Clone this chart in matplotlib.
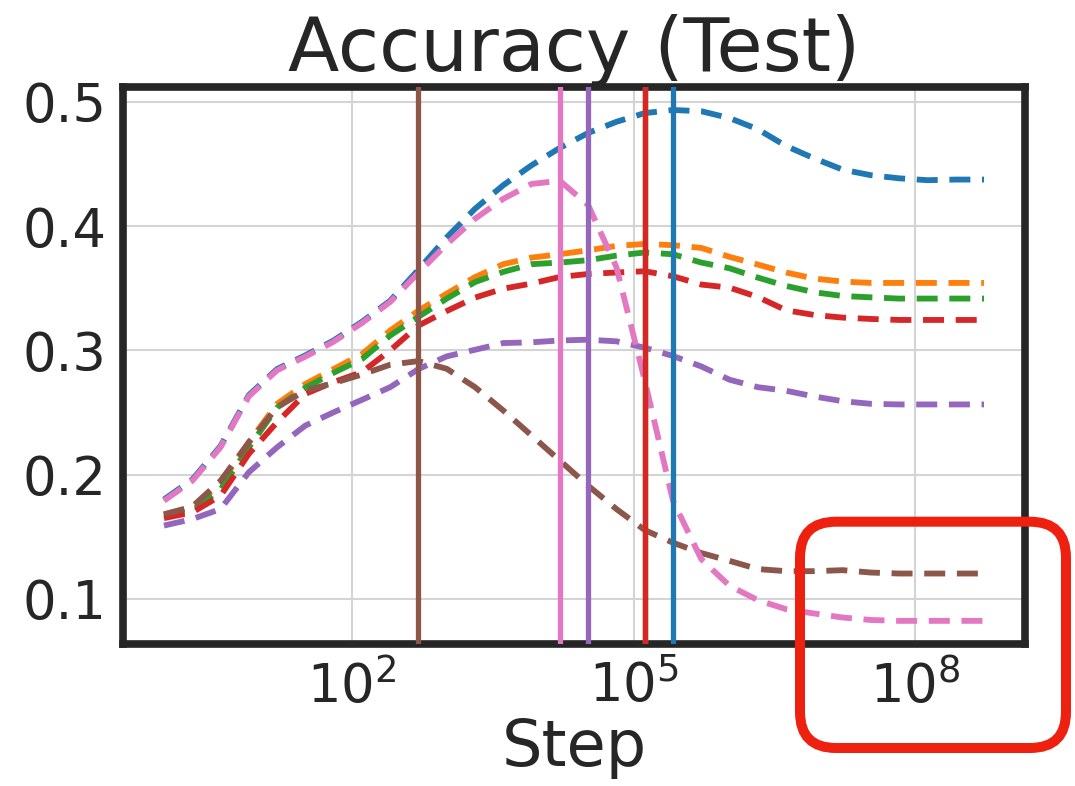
import matplotlib
matplotlib.use("Agg")
import matplotlib.pyplot as plt
import numpy as np
from matplotlib.patches import FancyBboxPatch
from matplotlib.ticker import FixedLocator, LogFormatterSciNotation, NullLocator

# Training steps (powers of two)
steps = [1, 2, 4, 8, 16, 32, 64, 128, 256, 512, 1024, 2048, 4096, 8192,
         16384, 32768, 65536, 131072, 262144, 524288, 1048576, 2097152,
         4194304, 8388608, 16777216, 33554432, 67108864, 134217728,
         268435456, 536870912]

acc_blue = [0.180, 0.196, 0.223, 0.264, 0.285, 0.296, 0.308, 0.323, 0.340, 0.365,
            0.391, 0.414, 0.433, 0.449, 0.463, 0.475, 0.484, 0.491, 0.4935, 0.4925,
            0.487, 0.478, 0.4645, 0.4545, 0.4455, 0.441, 0.4385, 0.437, 0.4375, 0.4375]
acc_orange = [0.168, 0.1737, 0.1925, 0.226, 0.257, 0.273, 0.285, 0.297, 0.316, 0.332,
              0.3457, 0.359, 0.3694, 0.3747, 0.3774, 0.3806, 0.3841, 0.3857, 0.3847, 0.3825,
              0.3753, 0.3691, 0.3627, 0.3578, 0.3554, 0.3543, 0.3543, 0.3543, 0.3543, 0.3543]
acc_green = [0.167, 0.171, 0.188, 0.222, 0.254, 0.270, 0.282, 0.293, 0.312, 0.327,
             0.3417, 0.355, 0.3632, 0.3694, 0.3707, 0.3726, 0.3763, 0.3788, 0.3774, 0.3707,
             0.3661, 0.3586, 0.3519, 0.3468, 0.3438, 0.3427, 0.3417, 0.3417, 0.3417, 0.3417]
acc_red = [0.165, 0.1696, 0.183, 0.2167, 0.2422, 0.265, 0.2745, 0.2825, 0.300, 0.320,
           0.3317, 0.3425, 0.3497, 0.3538, 0.3591, 0.3615, 0.3627, 0.3637, 0.3597, 0.353,
           0.3505, 0.343, 0.3323, 0.3285, 0.3264, 0.3253, 0.3245, 0.3245, 0.3245, 0.3245]
acc_purple = [0.159, 0.1642, 0.1723, 0.2019, 0.222, 0.2395, 0.2502, 0.2602, 0.2704, 0.285,
              0.2952, 0.3005, 0.3059, 0.3065, 0.308, 0.3086, 0.3073, 0.3022, 0.2955, 0.2871,
              0.2764, 0.2704, 0.2675, 0.2629, 0.2591, 0.257, 0.2565, 0.2565, 0.2565, 0.2565]
acc_brown = [0.168, 0.1742, 0.195, 0.226, 0.2543, 0.2677, 0.2737, 0.2806, 0.2885, 0.2914,
             0.2852, 0.2704, 0.2516, 0.2315, 0.2113, 0.1911, 0.1723, 0.1554, 0.1452, 0.1369,
             0.1306, 0.124, 0.1223, 0.1223, 0.1231, 0.1212, 0.1204, 0.1204, 0.1204, 0.1204]
acc_pink = [0.179, 0.195, 0.222, 0.263, 0.284, 0.295, 0.307, 0.322, 0.339, 0.3625,
            0.3855, 0.406, 0.422, 0.434, 0.4365, 0.417, 0.367, 0.276, 0.179, 0.132,
            0.1105, 0.099, 0.0917, 0.0882, 0.085, 0.083, 0.0823, 0.0823, 0.0823, 0.0823]

series = [acc_blue, acc_orange, acc_green, acc_red, acc_purple, acc_brown, acc_pink]
colors = ["#1f77b4", "#ff7f0e", "#2ca02c", "#d62728", "#9467bd", "#8c564b", "#e377c2"]

y_ticks = [0.1, 0.2, 0.3, 0.4, 0.5]
y_tick_labels = ["0.1", "0.2", "0.3", "0.4", "0.5"]
x_ticks = [1e2, 1e5, 1e8]

ink = "#262626"
plt.rcParams["font.family"] = ["DejaVu Sans"]

fig = plt.figure(figsize=(10.75, 7.86), dpi=100)
ax = fig.add_axes([0.1144, 0.1807, 0.8391, 0.7086])

lw = 4.2
for vals, c in zip(series, colors):
    ax.plot(steps, vals, color=c, lw=lw, linestyle=(0, (3.6, 2.0)), zorder=3)

# vertical markers at the step of best accuracy for each run
for vals, c in zip(series, colors):
    best = steps[int(np.argmax(vals))]
    ax.axvline(best, color=c, lw=3.8, zorder=4)

ax.set_xscale("log")
ax.set_ylim(0.0637, 0.512)
ax.xaxis.set_major_locator(FixedLocator(x_ticks))
ax.xaxis.set_major_formatter(LogFormatterSciNotation())
ax.xaxis.set_minor_locator(NullLocator())
ax.set_yticks(y_ticks)
ax.set_yticklabels(y_tick_labels)

ax.grid(True, color="#d4d4d4", lw=1.5, zorder=0)
ax.set_axisbelow(True)
for sp in ax.spines.values():
    sp.set_color(ink)
    sp.set_linewidth(5.5)
ax.tick_params(length=0, labelsize=38, colors=ink, pad=12)

ax.set_title("Accuracy (Test)", fontsize=54, color=ink, pad=8)
ax.set_xlabel("Step", fontsize=46, color=ink, labelpad=2)

# highlight box around the tail of the x axis
box = FancyBboxPatch((8.0, 0.38), 2.66, 2.263,
                     boxstyle="round,pad=0,rounding_size=0.36",
                     transform=fig.dpi_scale_trans, fill=False,
                     edgecolor="#ee2010", lw=7.2, zorder=10, clip_on=False)
fig.patches.append(box)

fig.savefig("out.png", dpi=100)
